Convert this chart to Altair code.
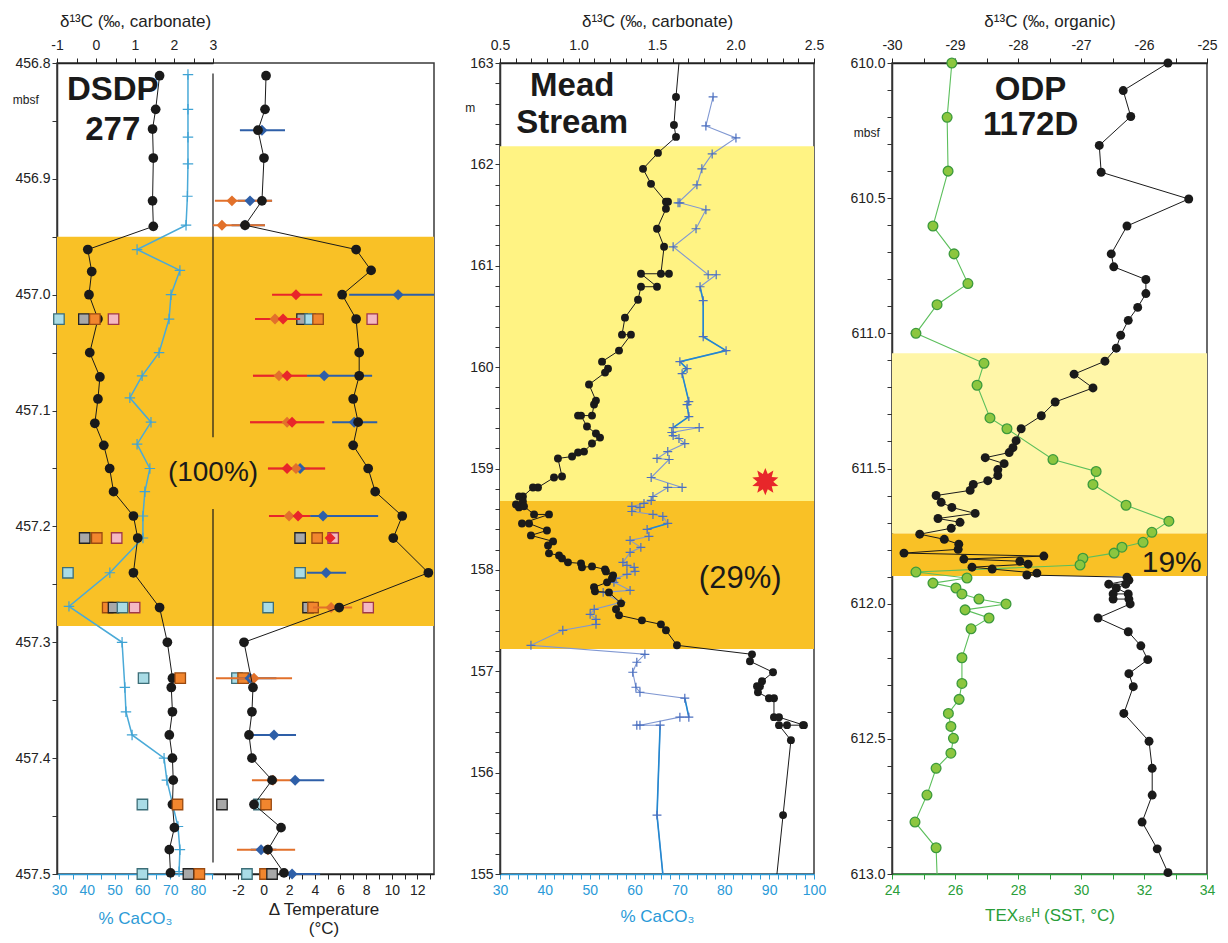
import math
import altair as alt
import pandas as pd

FONT = "Liberation Sans"
INK = "#1a1a1a"
ORANGE = "#F9C126"
YELLOW2 = "#FFF383"
YELLOW3 = "#FFF6A8"
BLUE1 = "#2E9BD6"
BLUE2 = "#2A9AD8"
GREEN = "#2A9E3A"

# ---------------- DSDP 277 ----------------
p1_c13_depth = [456.811, 456.840, 456.857, 456.882, 456.919, 456.941, 456.961, 456.980, 457.000, 457.021,
                457.050, 457.071, 457.090, 457.111, 457.130, 457.150, 457.170, 457.191, 457.210, 457.240,
                457.270, 457.300, 457.331, 457.339, 457.360, 457.380, 457.400, 457.419, 457.440, 457.460,
                457.479, 457.499]
p1_c13 = [1.63, 1.53, 1.45, 1.47, 1.45, 1.47, -0.21, -0.11, -0.18, 0.05,
          -0.16, 0.10, 0.05, -0.03, 0.20, 0.35, 0.45, 0.96, 1.07, 0.96,
          1.63, 1.83, 1.96, 1.93, 1.96, 1.88, 1.96, 1.98, 1.96, 2.01,
          1.88, 1.91]

p1_caco3_depth = [456.810, 456.840, 456.864, 456.887, 456.915, 456.940, 456.961, 456.979, 457.000, 457.021,
                  457.050, 457.070, 457.089, 457.110, 457.129, 457.150, 457.170, 457.191, 457.210, 457.240,
                  457.269, 457.300, 457.339, 457.360, 457.380, 457.400, 457.419, 457.459, 457.479, 457.498]
p1_caco3 = [76.4, 76.4, 76.4, 76.4, 76.2, 75.7, 58.1, 73.5, 70.3, 69.6,
            66.0, 59.9, 55.5, 63.1, 58.1, 62.7, 60.9, 60.2, 60.2, 48.3,
            33.6, 52.7, 53.7, 54.1, 56.3, 67.8, 68.8, 72.8, 73.5, 73.2]

p1_temp_depth = [456.811, 456.840, 456.858, 456.882, 456.919, 456.940, 456.961, 456.979, 457.000, 457.021,
                 457.050, 457.070, 457.090, 457.110, 457.130, 457.150, 457.170, 457.191, 457.210, 457.240,
                 457.270, 457.300, 457.339, 457.360, 457.380, 457.400, 457.419, 457.440, 457.460, 457.479,
                 457.499]
p1_temp = [0.19, 0.11, -0.44, 0.03, -0.13, -1.45, 7.22, 8.39, 6.13, 7.22,
           7.46, 7.46, 6.99, 7.38, 6.99, 8.16, 8.71, 10.82, 10.12, 12.86,
           5.90, -1.53, -0.83, -0.91, -1.14, -0.91, 0.66, -0.75, 1.36, 0.34,
           1.59]

# diamonds with error bars (delta temperature)
p1_red_depth = [457.000, 457.021, 457.070, 457.110, 457.150, 457.191, 457.210]
p1_red = [2.53, 1.52, 1.83, 2.22, 1.83, 2.69, 5.19]
p1_red_lo = [0.66, -0.67, -0.83, -1.06, 0.34, 0.42, 4.9]
p1_red_hi = [4.57, 2.85, 3.39, 4.73, 4.80, 3.63, 5.5]

p1_org_depth = [456.919, 456.940, 457.021, 457.070, 457.110, 457.150, 457.191, 457.270, 457.331, 457.419, 457.479]
p1_org = [-2.47, -3.25, 0.89, 1.20, 1.83, 2.53, 1.99, 5.27, -0.75, 0.73, 0.34]
p1_org_lo = [-3.80, -3.96, -0.67, -0.83, -1.06, 0.34, 0.42, 3.86, -3.72, -0.91, -2.08]
p1_org_hi = [0.66, 0.11, 2.85, 3.39, 4.73, 4.80, 3.63, 6.91, 2.22, 2.14, 2.46]

p1_blu_depth = [456.858, 456.919, 456.940, 457.000, 457.070, 457.110, 457.150, 457.191, 457.240, 457.331,
                457.380, 457.419, 457.479, 457.500]
p1_blu = [-0.13, -1.06, -1.45, 10.50, 4.73, 7.07, 2.85, 4.64, 4.88, -1.06,
          0.81, 2.46, -0.20, 2.22]
p1_blu_lo = [-1.85, -2.0, -2.5, 6.68, 3.39, 5.35, 2.0, 3.63, 3.39, -2.0,
             -0.83, 2.14, -1.0, 1.52]
p1_blu_hi = [1.67, 0.66, 0.11, 13.3, 8.47, 8.87, 3.6, 8.94, 6.44, 1.0,
             2.53, 4.73, 1.0, 4.41]

# squares (left half on the d13C scale, right half on the temperature scale)
sq_kinds = ["lightblue", "gray", "orange", "pink"]
sq_fill = ["#A9DCE6", "#A8A8A8", "#F2862E", "#F4B8C2"]
sq_stroke = ["#3C6E78", "#222222", "#9A4A10", "#A03848"]
p1_sqL_depth = [457.021, 457.021, 457.021, 457.021, 457.210, 457.210, 457.210, 457.240,
                457.270, 457.270, 457.270, 457.270, 457.331, 457.331, 457.440, 457.440,
                457.500, 457.500, 457.500]
p1_sqL = [-0.95, -0.31, -0.03, 0.45, -0.29, 0.02, 0.53, -0.72,
          0.30, 0.45, 0.68, 0.99, 1.22, 2.16, 1.19, 2.09,
          1.19, 2.37, 2.65]
p1_sqL_kind = ["lightblue", "gray", "orange", "pink", "gray", "orange", "pink", "lightblue",
               "orange", "gray", "lightblue", "pink", "lightblue", "orange", "lightblue", "orange",
               "lightblue", "gray", "orange"]
p1_sqR_depth = [457.021, 457.021, 457.021, 457.021, 457.210, 457.210, 457.210, 457.240,
                457.270, 457.270, 457.270, 457.270, 457.331, 457.331, 457.440, 457.440, 457.440,
                457.500, 457.500, 457.500]
p1_sqR = [3.00, 3.63, 4.25, 8.48, 2.85, 4.18, 5.43, 2.85,
          0.35, 3.47, 3.86, 8.16, -2.08, -1.60, -3.25, -0.36, 0.19,
          -1.30, 0.11, 0.66]
p1_sqR_kind = ["gray", "lightblue", "orange", "pink", "gray", "orange", "pink", "lightblue",
               "lightblue", "gray", "orange", "pink", "lightblue", "orange", "gray", "lightblue", "orange",
               "lightblue", "orange", "gray"]

p1_band = [456.950, 457.286]
p1_depth_ticks = [round(456.8 + 0.05 * k, 2) for k in range(15)]
p1_c13_ticks = [-1, -0.5, 0, 0.5, 1, 1.5, 2, 2.5, 3]
p1_caco3_ticks = [30, 35, 40, 45, 50, 55, 60, 65, 70, 75, 80, 85]
p1_temp_ticks = [-3, -2, -1, 0, 1, 2, 3, 4, 5, 6, 7, 8, 9, 10, 11, 12, 13]

# ---------------- Mead Stream ----------------
p2_c13_depth = [162.665, 162.389, 162.271, 162.113, 161.956, 161.808, 161.631, 161.631, 161.562, 161.365,
                161.187, 160.921, 160.921, 160.921, 160.793, 160.793, 160.665, 160.488, 160.320, 160.320,
                160.163, 160.054, 159.985, 159.946, 159.828, 159.670, 159.631, 159.522, 159.522, 159.522,
                159.414, 159.345, 159.305, 159.246, 159.167, 159.158, 159.118, 159.099, 158.921, 158.911,
                158.813, 158.813, 158.724, 158.724, 158.675, 158.645, 158.616, 158.626, 158.547, 158.547,
                158.458, 158.458, 158.389, 158.340, 158.281, 158.241, 158.163, 158.143, 158.113, 158.074,
                158.064, 158.025, 158.034, 158.005, 157.985, 157.946, 157.916, 157.877, 157.828, 157.788,
                157.778, 157.670, 157.611, 157.552, 157.502, 157.463, 157.404, 157.256, 157.167, 157.099,
                156.990, 156.901, 156.852, 156.852, 156.793, 156.734, 156.734, 156.547, 156.547, 156.468,
                156.468, 156.468, 156.468, 156.320, 155.581]
p2_c13 = [1.621, 1.608, 1.621, 1.506, 1.411, 1.462, 1.557, 1.570, 1.557, 1.500,
          1.545, 1.525, 1.576, 1.398, 1.500, 1.398, 1.379, 1.296, 1.277, 1.334,
          1.258, 1.150, 1.188, 1.169, 1.067, 1.111, 1.099, 1.086, 0.997, 1.016,
          1.054, 1.111, 1.137, 1.086, 1.035, 0.997, 0.959, 0.869, 0.895, 0.844,
          0.742, 0.710, 0.646, 0.621, 0.646, 0.602, 0.621, 0.653, 0.717, 0.812,
          0.640, 0.685, 0.799, 0.697, 0.838, 0.806, 0.812, 0.876, 0.895, 0.933,
          1.016, 1.022, 1.086, 1.169, 1.175, 1.220, 1.213, 1.182, 1.099, 1.105,
          1.194, 1.271, 1.239, 1.258, 1.404, 1.525, 1.557, 1.627, 2.105, 2.092,
          2.239, 2.169, 2.137, 2.156, 2.143, 2.213, 2.245, 2.245, 2.277, 2.436,
          2.430, 2.328, 2.277, 2.353, 2.303]
p2_c13_ends_depth = [163.0, 155.0]
p2_c13_ends = [1.640, 2.264]

p2_caco3_depth = [162.665, 162.379, 162.261, 162.103, 161.956, 161.798, 161.621, 161.621, 161.552, 161.365,
                  161.187, 160.911, 160.911, 160.793, 160.655, 160.300, 160.163, 160.054, 159.985, 159.936,
                  159.660, 159.631, 159.512, 159.404, 159.404, 159.355, 159.325, 159.296, 159.246, 159.167,
                  159.099, 159.089, 158.911, 158.813, 158.813, 158.724, 158.685, 158.655, 158.626, 158.616,
                  158.576, 158.547, 158.527, 158.458, 158.399, 158.330, 158.291, 158.222, 158.172, 158.074,
                  158.044, 158.025, 157.985, 157.956, 157.916, 157.877, 157.798, 157.778, 157.680, 157.611,
                  157.562, 157.512, 157.463, 157.404, 157.256, 157.167, 157.089, 156.990, 156.842, 156.793,
                  156.734, 156.547, 156.547, 156.468, 156.468, 156.468, 155.581]
p2_caco3 = [77.5, 75.9, 82.6, 77.3, 75.0, 73.9, 69.7, 70.1, 75.9, 73.7,
            68.6, 76.4, 78.2, 74.6, 75.3, 75.3, 80.4, 70.1, 71.7, 70.6,
            72.1, 71.7, 72.1, 68.6, 74.4, 68.3, 68.6, 69.9, 71.2, 67.4,
            65.0, 67.7, 63.7, 70.6, 67.4, 64.1, 63.7, 62.1, 59.4, 61.2,
            59.4, 64.1, 66.3, 67.4, 62.8, 63.2, 59.0, 61.4, 59.0, 57.4,
            58.3, 59.9, 60.1, 58.3, 55.9, 55.4, 59.0, 53.0, 57.0, 51.0,
            50.1, 51.4, 51.4, 44.0, 36.9, 62.3, 60.5, 59.6, 60.3, 61.2,
            71.2, 72.1, 70.1, 61.2, 60.5, 65.7, 65.0]
p2_caco3_end_depth = [155.0]
p2_caco3_end = [66.3]
# stretches of the CaCO3 curve drawn in the stronger blue (first/last sample index, inclusive)
p2_caco3_bright = [(13, 23), (43, 44), (70, 71), (75, 77)]

p2_yellow = [162.18, 158.68]
p2_orange = [158.68, 157.22]
p2_star_depth = [158.87]
p2_star_c13 = [2.19]
p2_depth_ticks = [round(155 + 0.2 * k, 1) for k in range(41)]
p2_c13_ticks = [round(0.5 + 0.1 * k, 1) for k in range(21)]
p2_caco3_ticks = list(range(30, 101, 2))

# ---------------- ODP 1172D ----------------
p3_c13_depth = [610.000, 610.102, 610.198, 610.305, 610.404, 610.503, 610.603, 610.706, 610.754, 610.801,
                610.853, 610.904, 610.952, 611.007, 611.055, 611.103, 611.151, 611.202, 611.254, 611.305,
                611.353, 611.397, 611.423, 611.441, 611.460, 611.482, 611.504, 611.526, 611.545, 611.559,
                611.581, 611.600, 611.625, 611.644, 611.666, 611.685, 611.699, 611.721, 611.743, 611.762,
                611.780, 611.799, 611.813, 611.824, 611.835, 611.843, 611.854, 611.865, 611.872, 611.887,
                611.894, 611.902, 611.913, 611.928, 611.928, 611.942, 611.964, 611.964, 611.983, 611.983,
                612.001, 612.053, 612.104, 612.156, 612.207, 612.259, 612.307, 612.406, 612.509, 612.609,
                612.708, 612.808, 612.907, 612.995]
p3_c13 = [-25.62, -26.33, -26.21, -26.71, -26.68, -25.29, -26.27, -26.52, -26.48, -25.97,
          -25.97, -26.10, -26.25, -26.37, -26.44, -26.62, -27.11, -26.81, -27.41, -27.63,
          -27.95, -28.03, -28.08, -28.14, -28.52, -28.22, -28.32, -28.32, -28.48, -28.71,
          -28.76, -29.30, -29.22, -29.05, -28.68, -29.27, -28.92, -29.06, -29.56, -29.17,
          -28.94, -28.95, -29.81, -27.59, -28.86, -27.97, -27.84, -28.73, -28.41, -27.70,
          -27.86, -26.27, -26.24, -26.56, -26.29, -26.44, -26.25, -26.49, -26.49, -26.24,
          -26.22, -26.73, -26.25, -26.05, -25.94, -26.24, -26.17, -26.32, -25.92, -25.87,
          -25.87, -26.03, -25.79, -25.62]

p3_tex_depth = [610.000, 610.201, 610.400, 610.603, 610.706, 610.816, 610.894, 611.000, 611.111, 611.192,
                611.313, 611.353, 611.467, 611.511, 611.559, 611.636, 611.695, 611.736, 611.773, 611.791,
                611.813, 611.832, 611.857, 611.883, 611.905, 611.924, 611.942, 611.964, 611.983, 612.001,
                612.023, 612.053, 612.093, 612.200, 612.295, 612.354, 612.406, 612.454, 612.498, 612.553,
                612.609, 612.708, 612.808, 612.903]
p3_tex = [25.90, 25.75, 25.78, 25.30, 25.97, 26.41, 25.43, 24.76, 26.92, 26.70,
          27.11, 27.65, 29.11, 30.48, 30.38, 31.43, 32.79, 32.25, 31.97, 31.30,
          31.05, 30.06, 29.97, 24.76, 26.38, 25.30, 26.03, 26.22, 26.76, 27.62,
          26.32, 27.08, 26.51, 26.22, 26.22, 26.13, 25.79, 25.87, 25.95, 25.87,
          25.40, 25.11, 24.73, 25.40]
p3_tex_end_depth = [613.0]
p3_tex_end = [25.43]

p3_yellow = [611.074, 611.740]
p3_orange = [611.740, 611.898]
p3_depth_ticks = [round(610 + 0.1 * k, 1) for k in range(31)]
p3_c13_ticks = [-30, -29.5, -29, -28.5, -28, -27.5, -27, -26.5, -26, -25.5, -25]
p3_tex_ticks = list(range(24, 35))

# ---------------- helpers ----------------
H = 811
W1, W2, W3 = 377, 314, 315
GAP12, GAP23 = 66, 78
PLUS = "M-1,0L1,0M0,-1L0,1"
_pts = []
for k in range(20):
    r = 1.0 if k % 2 == 0 else 0.58
    a = math.pi * k / 10 - math.pi / 2
    _pts.append(f"{r * math.cos(a):.3f},{r * math.sin(a):.3f}")
STAR = "M" + "L".join(_pts) + "Z"
NEG = "replace(format(datum.value, 'd'), '\u2212', '-')"


def frame(depth, vals, **extra):
    d = pd.DataFrame({"depth": depth, "v": vals})
    for k, v in extra.items():
        d[k] = v
    d["i"] = range(len(d))
    return d


def sc(domain, rng):
    return alt.Scale(domain=domain, range=rng, nice=False, zero=False)


def yaxis(ticks, expr):
    return alt.Axis(values=ticks, labelExpr=expr, title=None, tickSize=5, domainColor="#333",
                    tickColor="#333", domainWidth=1.5, labelOverlap=False, labelFontSize=14,
                    labelPadding=2)


def xaxis(orient, ticks, expr, title, color="#222", title_pad=8, label_pad=6):
    return alt.Axis(orient=orient, values=ticks, labelExpr=expr, title=title, labelColor=color,
                    titleColor=color, tickColor=color, domainColor=color, domainWidth=1.5,
                    labelFlush=False, labelOverlap=False, tickSize=5, titlePadding=title_pad,
                    labelPadding=label_pad)


def Y(scale, axis, field="depth"):
    return alt.Y(f"{field}:Q", scale=scale, axis=axis)


def band(lohi, color, width, ysc, yax):
    d = pd.DataFrame({"depth": [lohi[0]], "depth2": [lohi[1]]})
    return alt.Chart(d).mark_rect(color=color).encode(
        x=alt.value(0), x2=alt.value(width), y=Y(ysc, yax), y2="depth2:Q")


def line(d, xsc, color, ysc, yax, axis=None, width=1.0):
    return alt.Chart(d).mark_line(color=color, strokeWidth=width).encode(
        x=alt.X("v:Q", scale=xsc, axis=axis), y=Y(ysc, yax), order="i:Q")


def dots(d, xsc, ysc, yax, size, color=INK, stroke=None, sw=0):
    kw = dict(color=color, size=size, opacity=1)
    if stroke:
        kw.update(stroke=stroke, strokeWidth=sw)
    return alt.Chart(d).mark_circle(**kw).encode(x=alt.X("v:Q", scale=xsc, axis=None), y=Y(ysc, yax))


def pluses(d, xsc, ysc, yax, color, size=70, sw=1.2):
    return alt.Chart(d).mark_point(shape=PLUS, filled=False, color=color, size=size,
                                   strokeWidth=sw, opacity=1).encode(
        x=alt.X("v:Q", scale=xsc, axis=None), y=Y(ysc, yax))


def texts(rows, xsc, ysc, yax, size, weight="normal", color=INK, align="center"):
    d = pd.DataFrame(rows, columns=["v", "depth", "t"])
    return alt.Chart(d).mark_text(font=FONT, fontSize=size, fontWeight=weight, color=color,
                                  align=align, baseline="middle").encode(
        x=alt.X("v:Q", scale=xsc, axis=None), y=Y(ysc, yax), text="t:N")


def spacer(w):
    return alt.Chart(pd.DataFrame({"a": [0]})).mark_point(opacity=0).encode(
        x=alt.value(0), y=alt.value(0)
    ).properties(width=w, height=H, view=alt.ViewBackground(stroke="transparent"))


# ---------------- panel 1 ----------------
ys1 = alt.Scale(domain=[456.8, 457.5], reverse=True, nice=False, zero=False)
ya1 = yaxis(p1_depth_ticks, "round(datum.value*100) % 10 == 0 ? format(datum.value, '.1f') : ''")
x13_1 = sc([-1, 3], [0, 156])
xca_1 = sc([29.3, 85.4], [0, 156])
xt_1 = sc([-3.95, 13.3], [156, 377])

ax13_1 = xaxis("top", p1_c13_ticks, f"datum.value % 1 == 0 ? {NEG} : ''", "δ¹³C (‰, carbonate)")
axca_1 = xaxis("bottom", p1_caco3_ticks, "datum.value % 10 == 0 ? datum.label : ''", "% CaCO₃",
               color=BLUE1, title_pad=13, label_pad=4)
axt_1 = alt.Axis(orient="bottom", values=p1_temp_ticks, labelExpr=f"datum.value % 2 == 0 ? {NEG} : ''",
                 title=["Δ Temperature", "(°C)"], labelColor="#222", titleColor="#222", tickColor="#222",
                 domainColor="#222", domainWidth=1.5, labelFlush=False, labelOverlap=False, tickSize=5,
                 titlePadding=4, labelPadding=4, titleLineHeight=19)

div = pd.DataFrame({"v": [3, 3], "depth": [456.809, 457.185], "depth2": [457.123, 457.490]})
sqL = frame(p1_sqL_depth, p1_sqL, kind=p1_sqL_kind)
sqR = frame(p1_sqR_depth, p1_sqR, kind=p1_sqR_kind)
sq_fill_enc = alt.Fill("kind:N", scale=alt.Scale(domain=sq_kinds, range=sq_fill), legend=None)
sq_stroke_enc = alt.Stroke("kind:N", scale=alt.Scale(domain=sq_kinds, range=sq_stroke), legend=None)


def squares(d, xsc):
    return alt.Chart(d).mark_point(shape="square", filled=True, size=110, strokeWidth=1.3, opacity=1).encode(
        x=alt.X("v:Q", scale=xsc, axis=None), y=Y(ys1, ya1), fill=sq_fill_enc, stroke=sq_stroke_enc)


def ebars(depth, val, lo, hi, color):
    d = frame(depth, val, lo=lo, hi=hi)
    bars = alt.Chart(d).mark_rule(color=color, strokeWidth=2).encode(
        x=alt.X("lo:Q", scale=xt_1, axis=None), x2="hi:Q", y=Y(ys1, ya1))
    pts = alt.Chart(d).mark_point(shape="diamond", filled=True, color=color, size=120, opacity=1).encode(
        x=alt.X("v:Q", scale=xt_1, axis=None), y=Y(ys1, ya1))
    return bars, pts


c13_1 = frame(p1_c13_depth, p1_c13)
ca_1 = frame(p1_caco3_depth, p1_caco3)
t_1 = frame(p1_temp_depth, p1_temp)
rb, rp = ebars(p1_red_depth, p1_red, p1_red_lo, p1_red_hi, "#E8262A")
ob, op = ebars(p1_org_depth, p1_org, p1_org_lo, p1_org_hi, "#E2712B")
bb, bp = ebars(p1_blu_depth, p1_blu, p1_blu_lo, p1_blu_hi, "#2E5FA8")

p1 = alt.layer(
    band(p1_band, ORANGE, W1, ys1, ya1),
    alt.Chart(div).mark_rule(color=INK, strokeWidth=1.2).encode(
        x=alt.X("v:Q", scale=x13_1, axis=None), y=Y(ys1, ya1), y2="depth2:Q"),
    line(ca_1, xca_1, "#4AAAD8", ys1, ya1, axis=axca_1, width=1.5),
    pluses(ca_1, xca_1, ys1, ya1, "#3FA3D4", size=110),
    line(c13_1, x13_1, INK, ys1, ya1, axis=ax13_1),
    dots(c13_1, x13_1, ys1, ya1, 95),
    squares(sqL, x13_1),
    squares(sqR, xt_1),
    bb, ob, rb, bp, op, rp,
    line(t_1, xt_1, INK, ys1, ya1, axis=axt_1),
    dots(t_1, xt_1, ys1, ya1, 95),
    texts([(0.43, 456.823, "DSDP"), (0.43, 456.858, "277")], x13_1, ys1, ya1, 33, "bold"),
    texts([(3.0, 457.154, "(100%)")], x13_1, ys1, ya1, 28),
    texts([(-1.8, 456.832, "mbsf")], x13_1, ys1, ya1, 12),
).resolve_scale(x="independent").properties(width=W1, height=H)

# ---------------- panel 2 (height in metres, up is younger) ----------------
ys2 = alt.Scale(domain=[155, 163], nice=False, zero=False)
ya2 = yaxis(p2_depth_ticks, "round(datum.value*10) % 10 == 0 ? format(datum.value, '.0f') : ''")
x13_2 = sc([0.5, 2.5], [0, W2])
xca_2 = sc([30, 100], [0, W2])
ax13_2 = xaxis("top", p2_c13_ticks, "round(datum.value*10) % 5 == 0 ? format(datum.value, '.1f') : ''",
               "δ¹³C (‰, carbonate)")
axca_2 = xaxis("bottom", p2_caco3_ticks, "datum.value % 10 == 0 ? datum.label : ''", "% CaCO₃",
               color=BLUE2, title_pad=11, label_pad=4)

c13_2 = frame(p2_c13_depth, p2_c13)
c13_2_line = frame([p2_c13_ends_depth[0]] + p2_c13_depth + [p2_c13_ends_depth[1]],
                   [p2_c13_ends[0]] + p2_c13 + [p2_c13_ends[1]])
ca_2 = frame(p2_caco3_depth, p2_caco3)
ca_2_line = frame(p2_caco3_depth + p2_caco3_end_depth, p2_caco3 + p2_caco3_end)
bright_parts = []
for s, (a, b) in enumerate(p2_caco3_bright):
    part = ca_2_line.iloc[a:b + 1].copy()
    part["seg"] = s
    bright_parts.append(part)
ca_2_bright = pd.concat(bright_parts, ignore_index=True)
star = frame(p2_star_depth, p2_star_c13)

p2 = alt.layer(
    band(p2_yellow, YELLOW2, W2, ys2, ya2),
    band(p2_orange, ORANGE, W2, ys2, ya2),
    line(ca_2_line, xca_2, "#8098D2", ys2, ya2, axis=axca_2, width=1.1),
    alt.Chart(ca_2_bright).mark_line(color="#2388D0", strokeWidth=1.6).encode(
        x=alt.X("v:Q", scale=xca_2, axis=None), y=Y(ys2, ya2), order="i:Q", detail="seg:N"),
    pluses(ca_2, xca_2, ys2, ya2, "#4C70C0", size=80),
    line(c13_2_line, x13_2, INK, ys2, ya2, axis=ax13_2),
    dots(c13_2, x13_2, ys2, ya2, 62),
    alt.Chart(star).mark_point(shape=STAR, filled=True, color="#E8262A", size=750, opacity=1).encode(
        x=alt.X("v:Q", scale=x13_2, axis=None), y=Y(ys2, ya2)),
    texts([(0.96, 162.77, "Mead"), (0.96, 162.41, "Stream")], x13_2, ys2, ya2, 33, "bold"),
    texts([(2.03, 157.91, "(29%)")], x13_2, ys2, ya2, 31),
    texts([(0.31, 162.56, "m")], x13_2, ys2, ya2, 12),
).resolve_scale(x="independent").properties(width=W2, height=H)

# ---------------- panel 3 ----------------
ys3 = alt.Scale(domain=[610, 613], reverse=True, nice=False, zero=False)
ya3 = yaxis(p3_depth_ticks, "round(datum.value*10) % 5 == 0 ? format(datum.value, '.1f') : ''")
x13_3 = sc([-30, -25], [0, W3])
xtx_3 = sc([24, 34], [0, W3])
ax13_3 = xaxis("top", p3_c13_ticks, f"datum.value % 1 == 0 ? {NEG} : ''", "δ¹³C (‰, organic)")
axtx_3 = xaxis("bottom", p3_tex_ticks, "datum.value % 2 == 0 ? datum.label : ''", "TEX₈₆ᴴ (SST, °C)",
               color=GREEN, title_pad=10, label_pad=4)

c13_3 = frame(p3_c13_depth, p3_c13)
tex_3 = frame(p3_tex_depth, p3_tex)
tex_3_line = frame(p3_tex_depth + p3_tex_end_depth, p3_tex + p3_tex_end)

p3 = alt.layer(
    band(p3_yellow, YELLOW3, W3, ys3, ya3),
    band(p3_orange, ORANGE, W3, ys3, ya3),
    line(tex_3_line, xtx_3, "#5CBF5C", ys3, ya3, axis=axtx_3, width=1.1),
    dots(tex_3, xtx_3, ys3, ya3, 95, color="#8CC63F", stroke="#3C9A3C", sw=1.3),
    line(c13_3, x13_3, INK, ys3, ya3, axis=ax13_3),
    dots(c13_3, x13_3, ys3, ya3, 80),
    texts([(-27.8, 610.10, "ODP"), (-27.8, 610.23, "1172D")], x13_3, ys3, ya3, 33, "bold"),
    texts([(-25.56, 611.85, "19%")], x13_3, ys3, ya3, 30),
    texts([(-30.40, 610.26, "mbsf")], x13_3, ys3, ya3, 12),
).resolve_scale(x="independent").properties(width=W3, height=H)

chart = alt.hconcat(p1, spacer(GAP12), p2, spacer(GAP23), p3, spacing=0, bounds="flush").properties(
    padding={"left": 4, "right": 0, "top": 3, "bottom": 0}
).configure_view(stroke="#3a3a3a", strokeWidth=1.5).configure_axis(
    labelFont=FONT, titleFont=FONT, labelFontSize=14, titleFontSize=17, titleFontWeight="normal",
    grid=False, labelColor="#222", titleColor="#222"
).configure_text(font=FONT)

chart.save("out.html", embed_options={"renderer": "svg", "actions": False})
